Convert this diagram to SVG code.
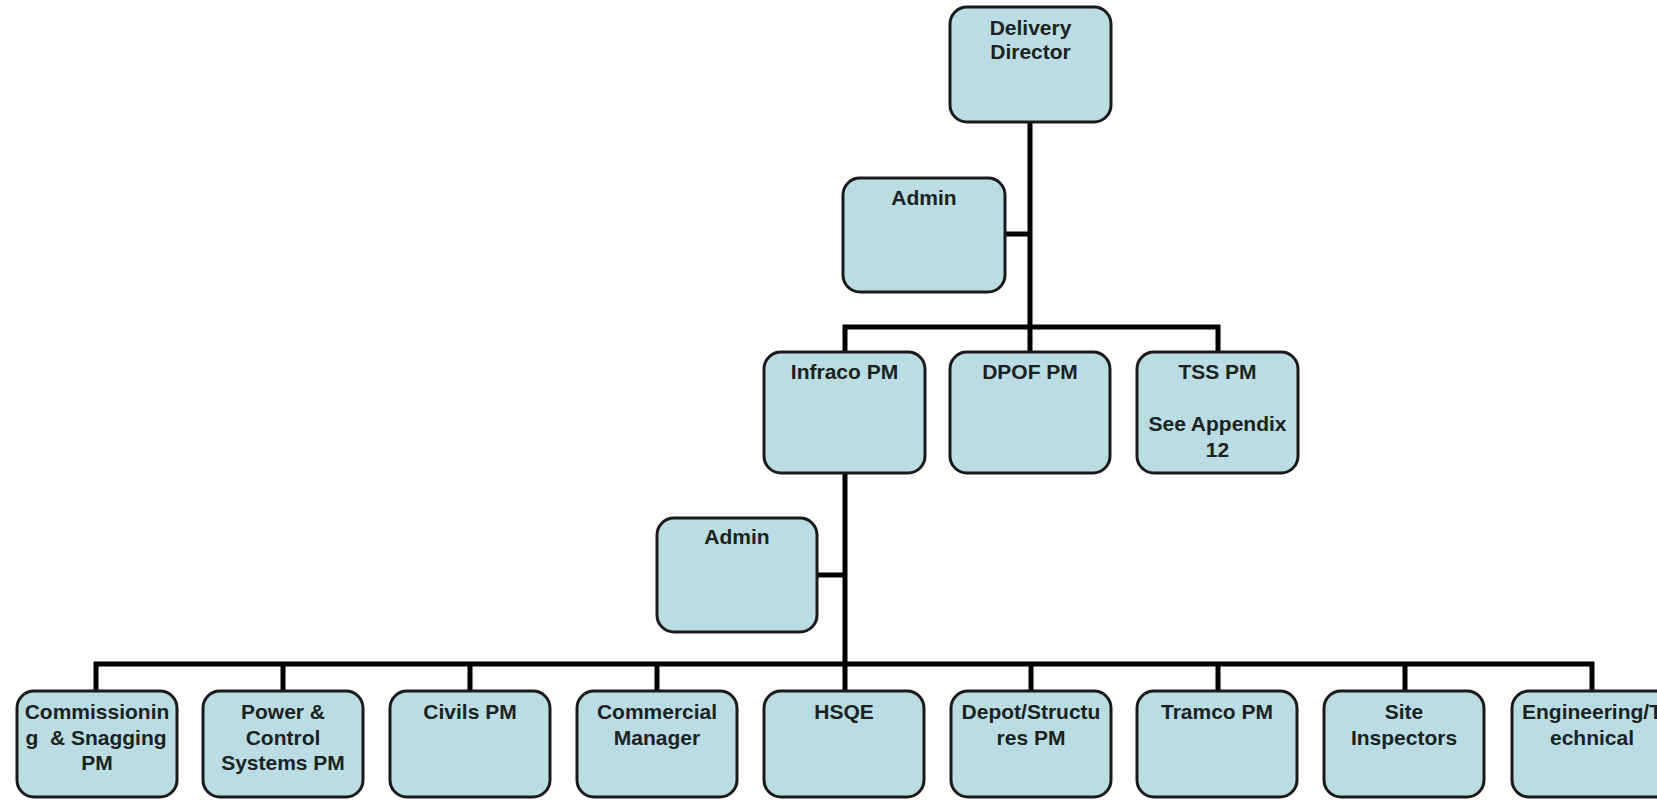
<svg xmlns="http://www.w3.org/2000/svg" width="1657" height="800" viewBox="0 0 1657 800">
  <style>
    .box { fill: #b9dde2; stroke: #1a1a1a; stroke-width: 3; }
    .lbl { font-family: "Liberation Sans", Arial, sans-serif; font-weight: bold; font-size: 21px; fill: #1a2222; text-anchor: middle; }
    .wire { fill: none; stroke: #000; stroke-width: 5; stroke-linejoin: miter; stroke-linecap: butt; }
  </style>
  <rect width="1657" height="800" fill="#ffffff"/>

  <!-- reporting lines -->
  <g id="connectors">
    <path class="wire" d="M1030,122 V352"/>
    <path class="wire" d="M1005,234 H1030"/>
    <path class="wire" d="M845,352 V327 H1218 V352"/>
    <path class="wire" d="M845,473 V691"/>
    <path class="wire" d="M817,575 H845"/>
    <path class="wire" d="M96,691 V664 H1592 V691"/>
    <path class="wire" d="M283,664 V691 M470,664 V691 M657,664 V691 M1031,664 V691 M1218,664 V691 M1405,664 V691"/>
  </g>

  <!-- top level -->
  <g id="delivery-director">
    <rect class="box" x="950" y="7" width="161" height="115" rx="17"/>
    <text class="lbl" x="1030.5" y="35">Delivery</text>
    <text class="lbl" x="1030.5" y="59">Director</text>
  </g>
  <g id="admin-director">
    <rect class="box" x="843" y="178" width="162" height="114" rx="17"/>
    <text class="lbl" x="924" y="205">Admin</text>
  </g>

  <!-- programme managers -->
  <g id="infraco-pm">
    <rect class="box" x="764" y="352" width="161" height="121" rx="17"/>
    <text class="lbl" x="844.5" y="379">Infraco PM</text>
  </g>
  <g id="dpof-pm">
    <rect class="box" x="950" y="352" width="160" height="121" rx="17"/>
    <text class="lbl" x="1030" y="379">DPOF PM</text>
  </g>
  <g id="tss-pm">
    <rect class="box" x="1137" y="352" width="161" height="121" rx="17"/>
    <text class="lbl" x="1217.5" y="379">TSS PM</text>
    <text class="lbl" x="1217.5" y="431">See Appendix</text>
    <text class="lbl" x="1217.5" y="457">12</text>
  </g>
  <g id="admin-infraco">
    <rect class="box" x="657" y="518" width="160" height="114" rx="17"/>
    <text class="lbl" x="737" y="544">Admin</text>
  </g>

  <!-- Infraco teams -->
  <g id="commissioning-pm">
    <rect class="box" x="17" y="691" width="160" height="106" rx="17"/>
    <text class="lbl" x="97" y="719">Commissionin</text>
    <text class="lbl" x="96" y="745" xml:space="preserve">g  &amp; Snagging</text>
    <text class="lbl" x="97" y="770">PM</text>
  </g>
  <g id="power-control-pm">
    <rect class="box" x="203" y="691" width="160" height="106" rx="17"/>
    <text class="lbl" x="283" y="719">Power &amp;</text>
    <text class="lbl" x="283" y="745">Control</text>
    <text class="lbl" x="283" y="770">Systems PM</text>
  </g>
  <g id="civils-pm">
    <rect class="box" x="390" y="691" width="160" height="106" rx="17"/>
    <text class="lbl" x="470" y="719">Civils PM</text>
  </g>
  <g id="commercial-manager">
    <rect class="box" x="577" y="691" width="160" height="106" rx="17"/>
    <text class="lbl" x="657" y="719">Commercial</text>
    <text class="lbl" x="657" y="745">Manager</text>
  </g>
  <g id="hsqe">
    <rect class="box" x="764" y="691" width="160" height="106" rx="17"/>
    <text class="lbl" x="844" y="719">HSQE</text>
  </g>
  <g id="depot-structures-pm">
    <rect class="box" x="951" y="691" width="160" height="106" rx="17"/>
    <text class="lbl" x="1031" y="719">Depot/Structu</text>
    <text class="lbl" x="1031" y="745">res PM</text>
  </g>
  <g id="tramco-pm">
    <rect class="box" x="1137" y="691" width="160" height="106" rx="17"/>
    <text class="lbl" x="1217" y="719">Tramco PM</text>
  </g>
  <g id="site-inspectors">
    <rect class="box" x="1324" y="691" width="160" height="106" rx="17"/>
    <text class="lbl" x="1404" y="719">Site</text>
    <text class="lbl" x="1404" y="745">Inspectors</text>
  </g>
  <!-- this box runs past the right edge of the canvas -->
  <g id="engineering-technical">
    <rect class="box" x="1512" y="691" width="160" height="106" rx="17"/>
    <text class="lbl" x="1592" y="719">Engineering/T</text>
    <text class="lbl" x="1592" y="745">echnical</text>
  </g>
</svg>
